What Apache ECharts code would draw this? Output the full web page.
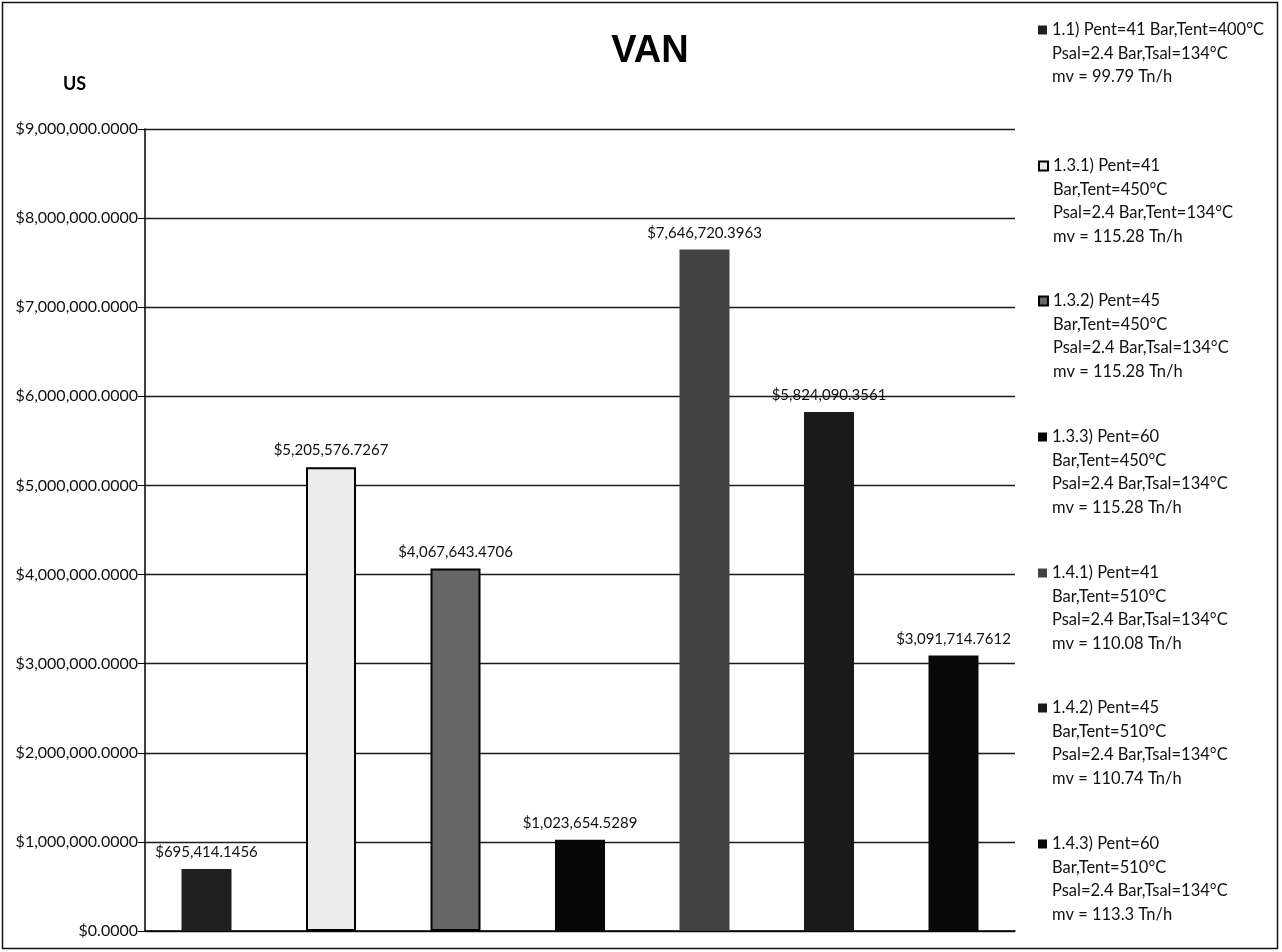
<!DOCTYPE html>
<html>
<head>
<meta charset="utf-8">
<script src="https://cdn.jsdelivr.net/npm/echarts@6/dist/echarts.min.js"></script>
<style>
html,body{margin:0;padding:0;background:#fff;}
#chart{width:1282px;height:952px;}
</style>
</head>
<body>
<div id="chart"></div>
<script>
// ---- data ----
const categories = [''];
const seriesNames = [
  '1.1) Pent=41 Bar,Tent=400°C\nPsal=2.4 Bar,Tsal=134°C\nmv = 99.79 Tn/h',
  '1.3.1) Pent=41\nBar,Tent=450°C\nPsal=2.4 Bar,Tent=134°C\nmv = 115.28 Tn/h',
  '1.3.2) Pent=45\nBar,Tent=450°C\nPsal=2.4 Bar,Tsal=134°C\nmv = 115.28 Tn/h',
  '1.3.3) Pent=60\nBar,Tent=450°C\nPsal=2.4 Bar,Tsal=134°C\nmv = 115.28 Tn/h',
  '1.4.1) Pent=41\nBar,Tent=510°C\nPsal=2.4 Bar,Tsal=134°C\nmv = 110.08 Tn/h',
  '1.4.2) Pent=45\nBar,Tent=510°C\nPsal=2.4 Bar,Tsal=134°C\nmv = 110.74 Tn/h',
  '1.4.3) Pent=60\nBar,Tent=510°C\nPsal=2.4 Bar,Tsal=134°C\nmv = 113.3 Tn/h'
];
const values = [695414.1456, 5205576.7267, 4067643.4706, 1023654.5289, 7646720.3963, 5824090.3561, 3091714.7612];
const yMin = 0, yMax = 9000000, yInterval = 1000000;
const titleText = 'VAN';
const yAxisName = 'US';

// ---- styles ----
const barColors = ['#202020', '#ececec', '#666666', '#060606', '#424242', '#1a1a1a', '#080808'];
const barBorders = [0, 2, 2, 0, 0, 0, 0];
const legendFirstLine = [30, 166, 301, 437, 573, 708, 844];
const LH = 23.5;
const FONT = 'Lato';

function money(v) {
  return '$' + Number(v).toLocaleString('en-US', {minimumFractionDigits: 4, maximumFractionDigits: 4});
}

const chart = echarts.init(document.getElementById('chart'), null, {renderer: 'canvas'});

const legends = seriesNames.map((n, i) => {
  const L = n.split('\n').length;
  return {
    data: [n],
    orient: 'vertical',
    left: 1038,
    top: legendFirstLine[i] - (2 * L - 1) * LH / 2,
    padding: 0,
    icon: 'rect',
    itemWidth: 9,
    itemHeight: 9,
    itemGap: 0,
    selectedMode: false,
    formatter: name => '\n'.repeat(L - 1) + name,
    textStyle: {fontFamily: FONT, fontSize: 16.5, lineHeight: LH, color: '#111'}
  };
});

const option = {
  backgroundColor: '#fff',
  animation: false,
  title: {
    text: titleText,
    left: 645, top: 28,
    textAlign: 'center',
    textStyle: {fontFamily: 'Liberation Sans', fontWeight: 'bold', fontSize: 38, color: '#000'}
  },
  legend: legends,
  graphic: [
    {type: 'rect', shape: {x: 2.5, y: 2.5, width: 1275, height: 946}, style: {fill: 'none', stroke: '#111', lineWidth: 1.5}, silent: true, z: 100},
    {type: 'text', left: 63, top: 75, style: {text: yAxisName, font: 'bold 18px Lato', fill: '#000'}}
  ],
  grid: {left: 145, right: 267, top: 129, bottom: 21, containLabel: false},
  xAxis: {
    type: 'category',
    data: categories,
    axisLine: {show: true, lineStyle: {color: '#000', width: 1.5}},
    axisTick: {show: false},
    axisLabel: {show: false}
  },
  yAxis: {
    type: 'value',
    min: yMin, max: yMax, interval: yInterval,
    axisLine: {show: true, lineStyle: {color: '#000', width: 1.5}},
    axisTick: {show: true, inside: false, length: 7, lineStyle: {color: '#000'}},
    axisLabel: {formatter: money, fontFamily: FONT, fontSize: 16, color: '#111', margin: 7},
    splitLine: {show: true, lineStyle: {color: '#1a1a1a', width: 1.4}}
  },
  series: seriesNames.map((n, i) => ({
    name: n,
    type: 'bar',
    data: [values[i]],
    barWidth: 50,
    barGap: '149%',
    itemStyle: {color: barColors[i], borderColor: '#000', borderWidth: barBorders[i]},
    label: {
      show: true, position: 'top', distance: 9,
      formatter: p => money(p.value),
      fontFamily: FONT, fontSize: 15, color: '#111'
    }
  }))
};
chart.setOption(option);
</script>
</body>
</html>
